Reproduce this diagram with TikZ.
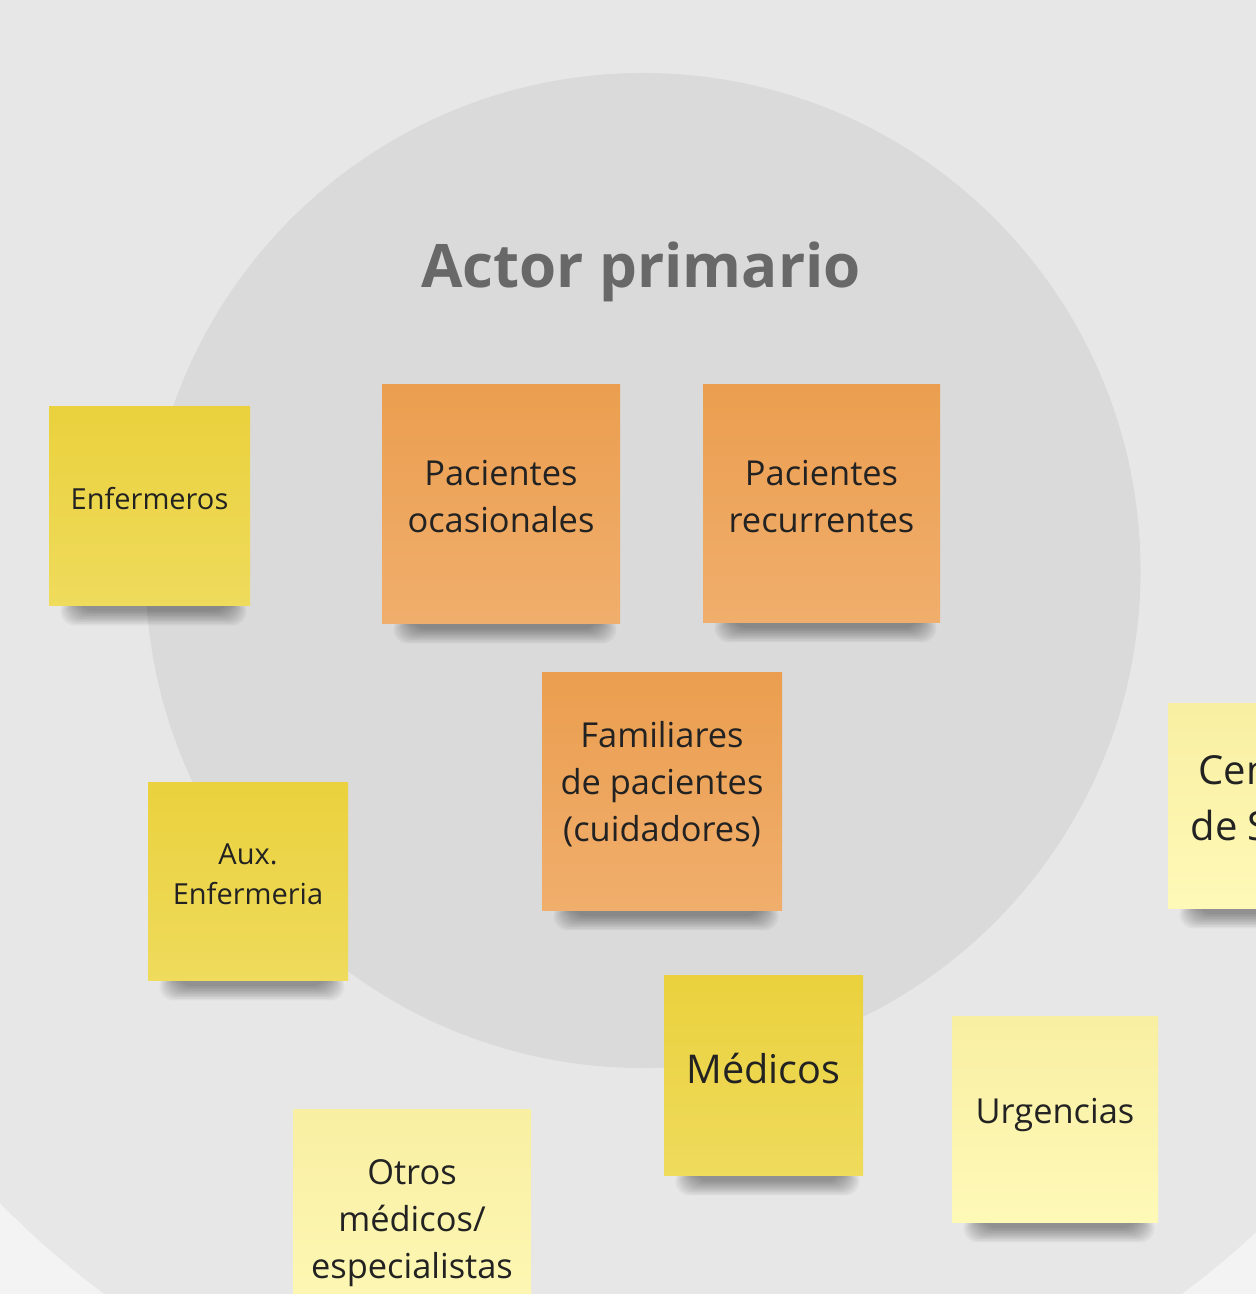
\documentclass[tikz,border=0pt]{standalone}
\usepackage{fontspec}
\setmainfont{Open Sans}
\usepackage{xcolor}
\usetikzlibrary{calc,positioning}
\pgfdeclarelayer{back}
\pgfdeclarelayer{shade}
\pgfsetlayers{back,shade,main}
\definecolor{paper}{HTML}{F3F3F3}
\definecolor{ringouter}{HTML}{E7E7E7}
\definecolor{ringinner}{HTML}{DADADA}
\definecolor{titlegray}{HTML}{686868}
\definecolor{inkdark}{HTML}{222222}
\definecolor{orangetop}{HTML}{EB9E4F}
\definecolor{orangebot}{HTML}{F0AE6C}
\definecolor{yellowtop}{HTML}{EAD13D}
\definecolor{yellowbot}{HTML}{EFDB5C}
\definecolor{paletop}{HTML}{F8EFA2}
\definecolor{palebot}{HTML}{FFF9B8}

\begin{document}
\begin{tikzpicture}[x=0.5pt, y=-0.5pt,
    note/.style={rectangle, inner sep=0pt},
    orangenote/.style={note, top color=orangetop, bottom color=orangebot},
    yellownote/.style={note, top color=yellowtop, bottom color=yellowbot},
    palenote/.style={note, top color=paletop, bottom color=palebot},
    notetext/.style={align=center, text=inkdark, inner sep=0pt},
    small/.style={notetext, font=\fontsize{14.5}{20}\selectfont},
    medium/.style={notetext, font=\fontsize{17.2}{23.6}\selectfont},
    large/.style={notetext, font=\fontsize{19.8}{28}\selectfont}]
    \useasboundingbox (0,0) rectangle (1256,1294);

    % Background rings
    \begin{pgfonlayer}{back}
        \fill[paper] (0,0) rectangle (1256,1294);
        \fill[ringouter] (643,570.5) circle[radius=902];
        \fill[ringinner] (643,570.5) circle[radius=497.5];
    \end{pgfonlayer}

    % Title
    \node[anchor=base, text=titlegray, font=\fontsize{30}{36}\bfseries\selectfont] (titulo) at (641,288) {Actor primario};

    % Primary actors
    \node[orangenote, minimum width=119pt, minimum height=119.5pt] (ocas) at (501,503.5) {};
    \node[orangenote, minimum width=118.5pt, minimum height=119pt] (recu) at (821.5,503) {};
    \node[orangenote, minimum width=120pt, minimum height=119pt] (fami) at (662,791) {};
    \node[medium] (ocastxt) at ([yshift=3.3pt]ocas.center) {Pacientes\\ocasionales};
    \node[medium] (recutxt) at ([yshift=3.3pt]recu.center) {Pacientes\\recurrentes};
    \node[medium] (famitxt) at ([yshift=3.3pt]fami.center) {Familiares\\de pacientes\\(cuidadores)};

    % Staff
    \node[yellownote, minimum width=100.5pt, minimum height=99.5pt] (enf) at (149.5,505.5) {};
    \node[yellownote, minimum width=100pt, minimum height=99pt] (aux) at (248,881) {};
    \node[yellownote, minimum width=99.5pt, minimum height=100pt] (medi) at (763.5,1075) {};
    \node[small] (enftxt) at ([yshift=3.3pt]enf.center) {Enfermeros};
    \node[small] (auxtxt) at ([yshift=3.3pt]aux.center) {Aux.\\Enfermeria};
    \node[large] (meditxt) at ([yshift=3.3pt]medi.center) {Médicos};

    % Other actors
    \node[palenote, minimum width=103pt, minimum height=103pt] (urge) at (1055,1119) {};
    \node[palenote, minimum width=119pt, minimum height=119pt] (otro) at (412,1228) {};
    \node[palenote, minimum width=103pt, minimum height=102.5pt] (cent) at (1271,805.5) {};
    \node[medium] (urgetxt) at ([yshift=2pt]urge.center) {Urgencias};
    \node[medium] (otrotxt) at ([yshift=2.5pt]otro.center) {Otros\\médicos/\\especialistas};
    \node[notetext, font=\fontsize{20}{28}\selectfont] (centtxt) at ([yshift=3.5pt]cent.center) {Centros\\de Salud};

    % Shadows under the notes
    \begin{pgfonlayer}{shade}
        \foreach \n in {ocas,recu,fami,enf,aux,medi,urge,otro,cent}
            \foreach \k in {0,...,9}
                \fill[black, opacity=0.045, rounded corners=7pt]
                    ($(\n.south west)+(12+2*\k,-8)$) rectangle ($(\n.south east)+(-4-2*\k,20-1.6*\k)$);
    \end{pgfonlayer}
\end{tikzpicture}
\end{document}
